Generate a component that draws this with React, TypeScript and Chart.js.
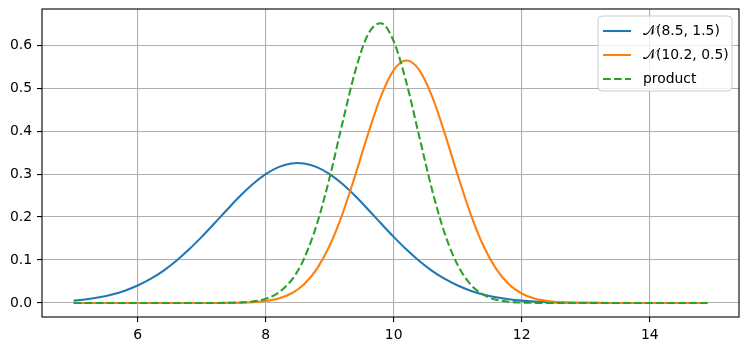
import React, { useEffect, useRef } from 'react';
import { Chart, registerables } from 'chart.js';

Chart.register(...registerables);

const xs = [
  5.0, 5.2, 5.4, 5.6, 5.8, 6.0, 6.2, 6.4, 6.6, 6.8,
  7.0, 7.2, 7.4, 7.6, 7.8, 8.0, 8.2, 8.4, 8.5, 8.6, 8.8,
  9.0, 9.2, 9.4, 9.6, 9.8, 10.0, 10.2, 10.4, 10.6, 10.8,
  11.0, 11.2, 11.4, 11.6, 11.8, 12.0, 12.2, 12.4, 12.6, 12.8,
  13.0, 13.2, 13.4, 13.6, 13.8, 14.0, 14.2, 14.4, 14.6, 14.8, 14.9,
];

const blueY = [
  0.0055, 0.0086, 0.0132, 0.0197, 0.0287, 0.0406, 0.0559, 0.0749, 0.0978, 0.1243,
  0.1539, 0.1854, 0.2176, 0.2487, 0.2767, 0.2997, 0.3161, 0.3247, 0.3257, 0.3247, 0.3161,
  0.2997, 0.2767, 0.2487, 0.2176, 0.1854, 0.1539, 0.1243, 0.0978, 0.0749, 0.0559,
  0.0406, 0.0287, 0.0197, 0.0132, 0.0086, 0.0055, 0.0034, 0.0020, 0.0012, 0.0007,
  0.0004, 0.0002, 0.0001, 0.0001, 0.0, 0.0, 0.0, 0.0, 0.0, 0.0, 0.0,
];

const orangeY = [
  0.0, 0.0, 0.0, 0.0, 0.0, 0.0, 0.0, 0.0, 0.0, 0.0,
  0.0, 0.0001, 0.0002, 0.0007, 0.0018, 0.0045, 0.0103, 0.0221, 0.0314, 0.0436, 0.0795,
  0.1337, 0.2076, 0.2975, 0.3936, 0.4808, 0.5421, 0.5642, 0.5421, 0.4808, 0.3936,
  0.2975, 0.2076, 0.1337, 0.0795, 0.0436, 0.0221, 0.0103, 0.0045, 0.0018, 0.0007,
  0.0002, 0.0001, 0.0, 0.0, 0.0, 0.0, 0.0, 0.0, 0.0, 0.0, 0.0,
];

const productY = [
  0.0, 0.0, 0.0, 0.0, 0.0, 0.0, 0.0, 0.0, 0.0, 0.0,
  0.0, 0.0001, 0.0004, 0.0012, 0.0036, 0.0098, 0.0239, 0.0524, 0.0746, 0.1034, 0.1834,
  0.2925, 0.4193, 0.5401, 0.6254, 0.6509, 0.6090, 0.5120, 0.3870, 0.2629, 0.1605,
  0.0881, 0.0435, 0.0193, 0.0077, 0.0028, 0.0009, 0.0003, 0.0001, 0.0, 0.0,
  0.0, 0.0, 0.0, 0.0, 0.0, 0.0, 0.0, 0.0, 0.0, 0.0, 0.0,
];

const seriesLabels = ['\u{1D4A9}(8.5, 1.5)', '\u{1D4A9}(10.2, 0.5)', 'product'];
const seriesColors = ['#1f77b4', '#ff7f0e', '#2ca02c'];
const xTicks = [6, 8, 10, 12, 14];
const yTicks = [0.0, 0.1, 0.2, 0.3, 0.4, 0.5, 0.6];

const FONT = "'DejaVu Sans', 'Liberation Sans', sans-serif";
const LW = 2.08;
const DASH = [7.7, 3.33];

const boxPlugin = {
  id: 'axesBox',
  afterDatasetsDraw(chart: any) {
    const { ctx, chartArea } = chart;
    ctx.save();
    ctx.strokeStyle = '#000';
    ctx.lineWidth = 1.1;
    ctx.strokeRect(chartArea.left, chartArea.top, chartArea.right - chartArea.left, chartArea.bottom - chartArea.top);
    ctx.restore();
  },
};

const legendPlugin = {
  id: 'mplLegend',
  afterDraw(chart: any) {
    const { ctx, chartArea } = chart;
    const w = 134;
    const h = 75;
    const x = chartArea.right - 7 - w;
    const y = chartArea.top + 7;
    const r = 4;
    ctx.save();
    ctx.beginPath();
    ctx.moveTo(x + r, y);
    ctx.lineTo(x + w - r, y);
    ctx.quadraticCurveTo(x + w, y, x + w, y + r);
    ctx.lineTo(x + w, y + h - r);
    ctx.quadraticCurveTo(x + w, y + h, x + w - r, y + h);
    ctx.lineTo(x + r, y + h);
    ctx.quadraticCurveTo(x, y + h, x, y + h - r);
    ctx.lineTo(x, y + r);
    ctx.quadraticCurveTo(x, y, x + r, y);
    ctx.closePath();
    ctx.fillStyle = 'rgba(255,255,255,0.8)';
    ctx.fill();
    ctx.strokeStyle = '#cccccc';
    ctx.lineWidth = 1;
    ctx.stroke();

    ctx.font = `13.9px ${FONT}`;
    ctx.textBaseline = 'middle';
    ctx.textAlign = 'left';
    for (let i = 0; i < seriesLabels.length; i++) {
      const cy = y + 15 + i * 24;
      ctx.beginPath();
      ctx.strokeStyle = seriesColors[i];
      ctx.lineWidth = LW;
      ctx.setLineDash(i === 2 ? DASH : []);
      ctx.moveTo(x + 5, cy);
      ctx.lineTo(x + 33, cy);
      ctx.stroke();
      ctx.setLineDash([]);
      ctx.fillStyle = '#000';
      ctx.fillText(seriesLabels[i], x + 45, cy);
    }
    ctx.restore();
  },
};

export default function App() {
  const ref = useRef<HTMLCanvasElement | null>(null);

  useEffect(() => {
    if (!ref.current) return;
    const mk = (ys: number[]) => xs.map((x, i) => ({ x, y: ys[i] }));
    const chart = new Chart(ref.current, {
      type: 'line',
      data: {
        datasets: [
          {
            label: seriesLabels[0],
            data: mk(blueY),
            borderColor: seriesColors[0],
            borderWidth: LW,
            pointRadius: 0,
            cubicInterpolationMode: 'monotone',
            order: 2,
          },
          {
            label: seriesLabels[1],
            data: mk(orangeY),
            borderColor: seriesColors[1],
            borderWidth: LW,
            pointRadius: 0,
            cubicInterpolationMode: 'monotone',
            order: 1,
          },
          {
            label: seriesLabels[2],
            data: mk(productY),
            borderColor: seriesColors[2],
            borderWidth: LW,
            borderDash: DASH,
            pointRadius: 0,
            cubicInterpolationMode: 'monotone',
            order: 0,
          },
        ],
      },
      options: {
        animation: false,
        responsive: false,
        maintainAspectRatio: false,
        devicePixelRatio: 1,
        layout: { padding: { top: 9, right: 10, left: 0, bottom: 0 } },
        plugins: { legend: { display: false }, tooltip: { enabled: false } },
        scales: {
          x: {
            type: 'linear',
            min: 4.505,
            max: 15.395,
            afterBuildTicks: (s: any) => {
              s.ticks = xTicks.map((v) => ({ value: v }));
            },
            afterFit: (s: any) => {
              s.height = 34;
              s.paddingLeft = 0;
              s.paddingRight = 0;
            },
            grid: { color: '#b0b0b0', lineWidth: 1.1, tickColor: '#000', tickLength: 5, drawTicks: true },
            border: { display: false },
            ticks: {
              color: '#000',
              font: { family: FONT, size: 13.9 },
              padding: 5,
              autoSkip: false,
              maxRotation: 0,
              callback: (v: any) => String(v),
            },
          },
          y: {
            type: 'linear',
            min: -0.0326,
            max: 0.6841,
            afterBuildTicks: (s: any) => {
              s.ticks = yTicks.map((v) => ({ value: v }));
            },
            afterFit: (s: any) => {
              s.width = 42;
              s.paddingTop = 0;
              s.paddingBottom = 0;
            },
            grid: { color: '#b0b0b0', lineWidth: 1.1, tickColor: '#000', tickLength: 5, drawTicks: true },
            border: { display: false },
            ticks: {
              color: '#000',
              font: { family: FONT, size: 13.9 },
              padding: 5,
              autoSkip: false,
              callback: (v: any) => Number(v).toFixed(1),
            },
          },
        },
      },
      plugins: [boxPlugin, legendPlugin],
    } as any);
    return () => chart.destroy();
  }, []);

  return (
    <div style={{ position: 'absolute', left: 0, top: 0, width: 749, height: 351, background: '#fff' }}>
      <canvas ref={ref} width={749} height={351} style={{ display: 'block', width: 749, height: 351 }} />
    </div>
  );
}
